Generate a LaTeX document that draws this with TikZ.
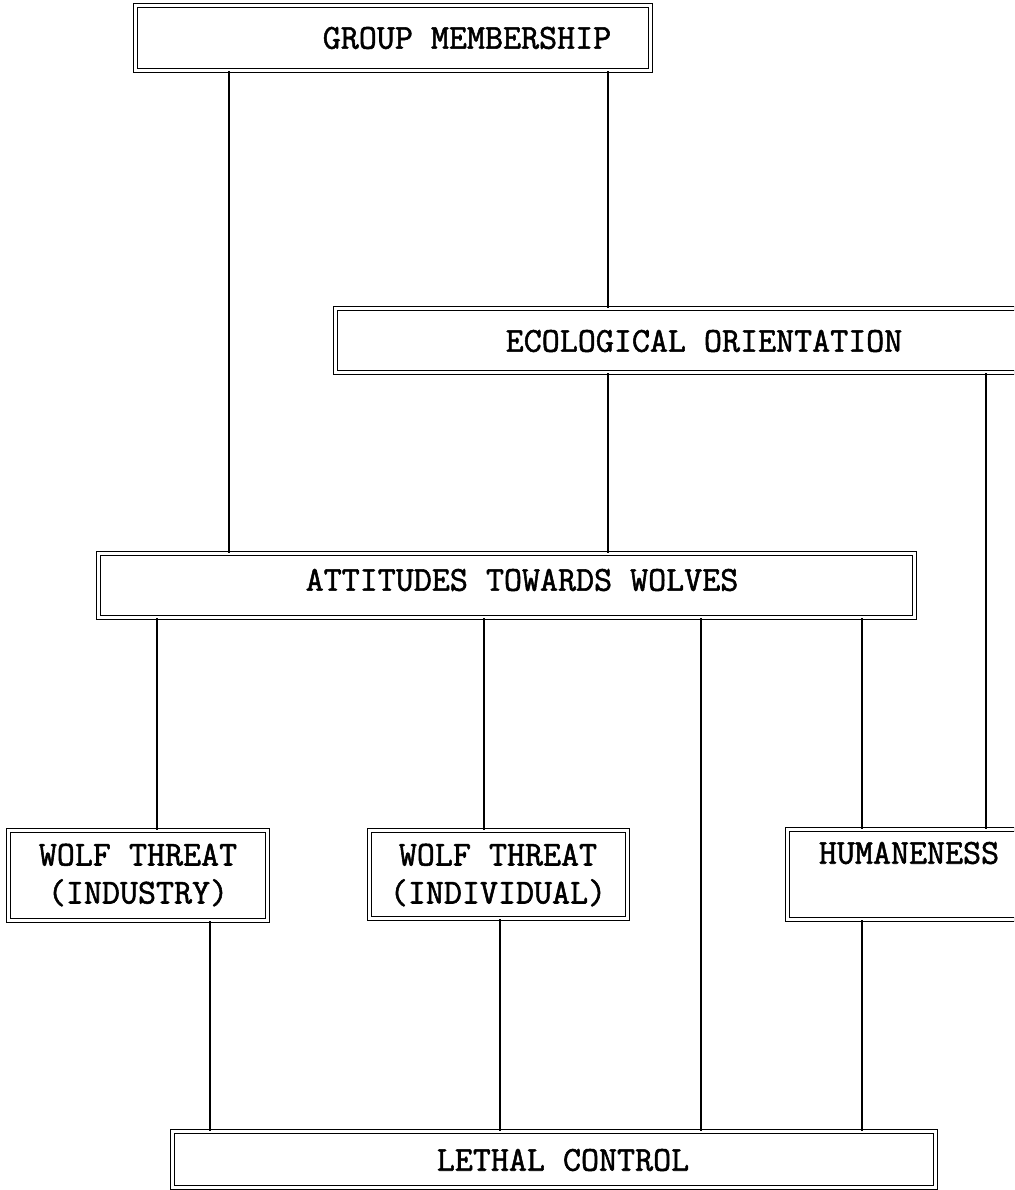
\documentclass[tikz,border=0pt]{standalone}
\usepackage{fontspec}
\newfontfamily\typewriter[FakeBold=1.5]{Latin Modern Mono}
\begin{document}
\begin{tikzpicture}[x=1pt,y=-1pt,
  box/.style={draw=black, line width=1.2pt, double=white, double distance=2.6pt,
    inner sep=0pt, anchor=north west},
  lbl/.style={font=\typewriter\fontsize{35}{38}\selectfont, inner sep=0pt, align=center},
  conn/.style={line width=1.4pt}]
\useasboundingbox (0,0) rectangle (1014,1190);
\clip (0,0) rectangle (1014,1190);
\fill[white] (0,0) rectangle (1014,1190);

% boxes: top-left corner, width, height
\node[box, minimum width=515pt, minimum height=65pt] (gm)  at (135,5) {};
\node[box, minimum width=700pt, minimum height=64pt] (eco) at (335,308) {};
\node[box, minimum width=816pt, minimum height=64pt] (att) at (98,553) {};
\node[box, minimum width=259pt, minimum height=90pt] (wti) at (8,830) {};
\node[box, minimum width=258pt, minimum height=88pt] (wtv) at (369,830) {};
\node[box, minimum width=250pt, minimum height=90pt] (hum) at (787,829) {};
\node[box, minimum width=763pt, minimum height=56pt] (leth) at (172,1131) {};

% box texts
\node[lbl] (tgm)   at (467,38)  {GROUP MEMBERSHIP};
\node[lbl] (teco)  at (704,341) {ECOLOGICAL ORIENTATION};
\node[lbl] (tatt)  at (522,580) {ATTITUDES TOWARDS WOLVES};
\node[lbl] (twti)  at (138,875) {WOLF THREAT\\(INDUSTRY)};
\node[lbl] (twtv)  at (498,875) {WOLF THREAT\\(INDIVIDUAL)};
\node[lbl] (thum)  at (909,853) {HUMANENESS};
\node[lbl] (tleth) at (563,1160) {LETHAL CONTROL};

% connectors
\draw[conn] (gm.south -| 229,0) -- (att.north -| 229,0);
\draw[conn] (gm.south -| 608,0) -- (eco.north -| 608,0);
\draw[conn] (eco.south -| 608,0) -- (att.north -| 608,0);
\draw[conn] (eco.south -| 986,0) -- (hum.north -| 986,0);
\draw[conn] (att.south -| 157,0) -- (wti.north -| 157,0);
\draw[conn] (att.south -| 484,0) -- (wtv.north -| 484,0);
\draw[conn] (att.south -| 701,0) -- (leth.north -| 701,0);
\draw[conn] (att.south -| 862,0) -- (hum.north -| 862,0);
\draw[conn] (wti.south -| 210,0) -- (leth.north -| 210,0);
\draw[conn] (wtv.south -| 500,0) -- (leth.north -| 500,0);
\draw[conn] (hum.south -| 862,0) -- (leth.north -| 862,0);
\end{tikzpicture}
\end{document}
